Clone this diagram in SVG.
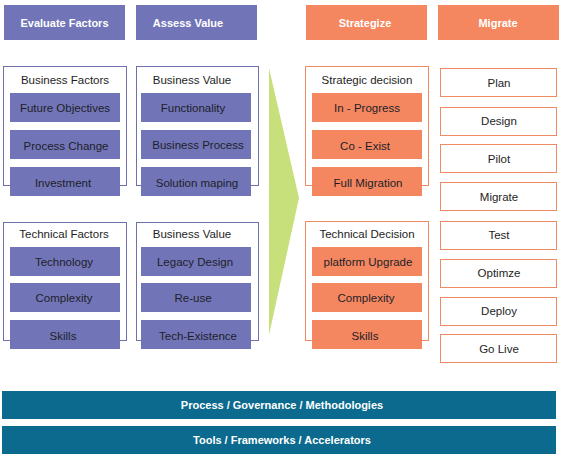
<svg xmlns="http://www.w3.org/2000/svg" width="563" height="458" viewBox="0 0 563 458">
<style>
text{font-family:"Liberation Sans",Arial,sans-serif;font-size:11.5px;text-anchor:middle}
.hp{fill:#7175b7}
.ho{fill:#f4875f}
.ht{fill:#fff;font-weight:bold;font-size:11px}
.cp{fill:#fff;stroke:#6d72ad;stroke-width:1}
.co{fill:#fff;stroke:#ef8a62;stroke-width:1}
.tt{fill:#1e1e1e}
.ip{fill:#7175b7}
.io{fill:#f4875f}
.it{fill:#1e1e2a}
.mb{fill:#fff;stroke:#ef8a62;stroke-width:1}
.bar{fill:#0b6a8e}
</style>
<rect width="563" height="458" fill="#fff"/>
<g id="connectors">
<polygon points="269,68 299,198 269,335" fill="#c8e07c"/>
</g>
<g id="h-evaluate"><rect class="hp" x="4" y="5" width="121" height="35"/><text class="ht" x="64.5" y="26.5">Evaluate Factors</text></g>
<g id="h-assess"><rect class="hp" x="136" y="5" width="121" height="35"/><text class="ht" x="188" y="26.5">Assess Value</text></g>
<g id="h-strategize"><rect class="ho" x="306" y="5" width="121" height="35"/><text class="ht" x="365" y="26.5">Strategize</text></g>
<g id="h-migrate"><rect class="ho" x="438" y="5" width="121" height="35"/><text class="ht" x="498" y="26.5">Migrate</text></g>

<g id="business-factors">
<rect class="cp" x="3.5" y="66.5" width="123" height="119"/>
<text class="tt" x="65" y="84">Business Factors</text>
<rect class="ip" x="10" y="93" width="110" height="29"/><text class="it" x="65" y="111.5">Future Objectives</text>
<rect class="ip" x="10" y="130" width="110" height="29"/><text class="it" x="66" y="149.5">Process Change</text>
<rect class="ip" x="10" y="167" width="110" height="29"/><text class="it" x="63" y="186.5">Investment</text>
</g>
<g id="business-value-1">
<rect class="cp" x="136.5" y="66.5" width="122" height="119"/>
<text class="tt" x="192" y="84">Business Value</text>
<rect class="ip" x="141" y="93" width="110" height="29"/><text class="it" x="193" y="111.5">Functionality</text>
<rect class="ip" x="141" y="130" width="110" height="29"/><text class="it" x="198" y="149">Business Process</text>
<rect class="ip" x="141" y="167" width="110" height="29"/><text class="it" x="197" y="186.5">Solution maping</text>
</g>
<g id="technical-factors">
<rect class="cp" x="3.5" y="222.5" width="123" height="118"/>
<text class="tt" x="64" y="238">Technical Factors</text>
<rect class="ip" x="10" y="247" width="110" height="29"/><text class="it" x="64" y="265.5">Technology</text>
<rect class="ip" x="10" y="283" width="110" height="29"/><text class="it" x="64" y="302">Complexity</text>
<rect class="ip" x="10" y="320" width="110" height="29"/><text class="it" x="63" y="340">Skills</text>
</g>
<g id="business-value-2">
<rect class="cp" x="136.5" y="222.5" width="122" height="118"/>
<text class="tt" x="192" y="238">Business Value</text>
<rect class="ip" x="141" y="247" width="110" height="29"/><text class="it" x="195" y="265.5">Legacy Design</text>
<rect class="ip" x="141" y="283" width="110" height="29"/><text class="it" x="193" y="302">Re-use</text>
<rect class="ip" x="141" y="320" width="110" height="29"/><text class="it" x="198" y="340">Tech-Existence</text>
</g>
<g id="strategic-decision">
<rect class="co" x="305.5" y="66.5" width="123" height="119"/>
<text class="tt" x="367" y="84">Strategic decision</text>
<rect class="io" x="312" y="93" width="110" height="29"/><text class="it" x="367" y="111.5">In - Progress</text>
<rect class="io" x="312" y="130" width="110" height="29"/><text class="it" x="365" y="149.5">Co - Exist</text>
<rect class="io" x="312" y="167" width="110" height="29"/><text class="it" x="368" y="186.5">Full Migration</text>
</g>
<g id="technical-decision">
<rect class="co" x="305.5" y="221.5" width="123" height="119"/>
<text class="tt" x="367" y="238">Technical Decision</text>
<rect class="io" x="312" y="247" width="110" height="29"/><text class="it" x="368" y="266">platform Upgrade</text>
<rect class="io" x="312" y="283" width="110" height="29"/><text class="it" x="366" y="302">Complexity</text>
<rect class="io" x="312" y="320" width="110" height="29"/><text class="it" x="365" y="340">Skills</text>
</g>
<g id="m-plan"><rect class="mb" x="440.5" y="68.5" width="116" height="28"/><text class="tt" x="499" y="87">Plan</text></g>
<g id="m-design"><rect class="mb" x="440.5" y="107.5" width="116" height="28"/><text class="tt" x="499" y="125">Design</text></g>
<g id="m-pilot"><rect class="mb" x="440.5" y="144.5" width="116" height="28"/><text class="tt" x="499" y="163">Pilot</text></g>
<g id="m-migrate"><rect class="mb" x="440.5" y="182.5" width="116" height="28"/><text class="tt" x="499" y="201">Migrate</text></g>
<g id="m-test"><rect class="mb" x="440.5" y="221.5" width="116" height="28"/><text class="tt" x="499" y="239">Test</text></g>
<g id="m-optimze"><rect class="mb" x="440.5" y="259.5" width="116" height="28"/><text class="tt" x="499" y="277">Optimze</text></g>
<g id="m-deploy"><rect class="mb" x="440.5" y="297.5" width="116" height="28"/><text class="tt" x="499" y="315">Deploy</text></g>
<g id="m-golive"><rect class="mb" x="440.5" y="334.5" width="116" height="28"/><text class="tt" x="499" y="353">Go Live</text></g>
<g id="bar-process"><rect class="bar" x="2" y="391" width="554" height="28"/><text class="ht" x="282" y="409">Process / Governance / Methodologies</text></g>
<g id="bar-tools"><rect class="bar" x="2" y="426" width="554" height="28"/><text class="ht" x="282" y="444">Tools / Frameworks / Accelerators</text></g>
</svg>
